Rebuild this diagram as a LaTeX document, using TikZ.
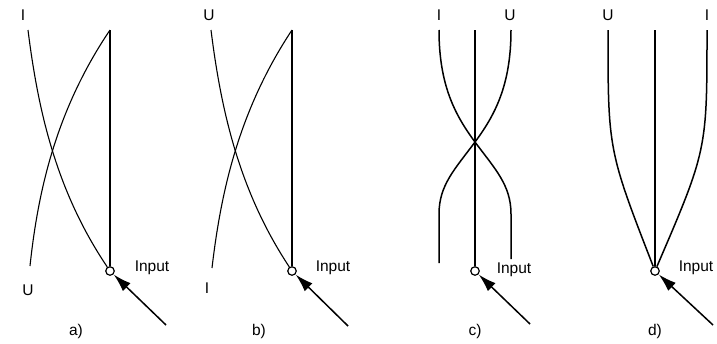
\documentclass[tikz,border=0pt]{standalone}
\usepackage{fontspec}
\setmainfont{Liberation Sans}
\usetikzlibrary{arrows.meta}
\begin{document}
\begin{tikzpicture}[x=1pt,y=-1pt,
  lbl/.style={font=\fontsize{15.5}{18}\selectfont, inner sep=0pt},
  curveline/.style={line width=1.1pt},
  boldline/.style={line width=2.4pt},
  midline/.style={line width=1.5pt},
  port/.style={circle, draw, line width=1.2pt, minimum size=8.5pt, inner sep=0pt, fill=white},
  feed/.style={line width=1.5pt, -{Latex[length=18pt,width=11pt]}, shorten >=0.3pt}
]
\useasboundingbox (0,0) rectangle (717,343);

% ---------- panel a ----------
\node[lbl] (a-Il) at (23,15) {I};
\node[lbl] (a-Ul) at (28,290) {U};
\node[port] (a-in) at (110,271) {};
\node[lbl] (a-inl) at (152,268) {Input};
\node[lbl] (a-cap) at (76,331) {a)};
\coordinate (a-it) at (28,30);
\coordinate (a-ub) at (30,266);
\coordinate (a-top) at (110,30);
\coordinate (a-tail) at (166,325);
\draw[boldline] (a-top) -- (a-in);
\draw[curveline] (a-it) .. controls (38,110) and (56,191) .. (a-in);
\draw[curveline] (a-ub) .. controls (38,191) and (56,110) .. (a-top);
\draw[feed] (a-tail) -- (a-in);

% ---------- panel b ----------
\node[lbl] (b-Ul) at (209,15) {U};
\node[lbl] (b-Il) at (207,288) {I};
\node[port] (b-in) at (292,271) {};
\node[lbl] (b-inl) at (333,268) {Input};
\node[lbl] (b-cap) at (259,331) {b)};
\coordinate (b-ut) at (211,30);
\coordinate (b-ib) at (212,268);
\coordinate (b-top) at (292,30);
\coordinate (b-tail) at (348,326);
\draw[midline] (b-top) -- (b-in);
\draw[curveline] (b-ut) .. controls (221,110) and (239,191) .. (b-in);
\draw[curveline] (b-ib) .. controls (221,191) and (239,110) .. (b-top);
\draw[feed] (b-tail) -- (b-in);

% ---------- panel c ----------
\node[lbl] (c-Il) at (439,15) {I};
\node[lbl] (c-Ul) at (510,15) {U};
\node[port] (c-in) at (475,271) {};
\node[lbl] (c-inl) at (514,270) {Input};
\node[lbl] (c-cap) at (475,331) {c)};
\coordinate (c-lt) at (439,30);
\coordinate (c-rt) at (511,30);
\coordinate (c-x) at (475,142);
\coordinate (c-lb) at (439,263);
\coordinate (c-rb) at (511,259);
\coordinate (c-top) at (475,30);
\coordinate (c-tail) at (530,324);
\draw[midline] (c-top) -- (c-in);
\draw[midline] (c-lt) .. controls (439,85) and (455,115) .. (c-x)
  .. controls (495,169) and (511,185) .. (511,214) -- (c-rb);
\draw[midline] (c-rt) .. controls (511,85) and (495,115) .. (c-x)
  .. controls (455,169) and (439,185) .. (439,214) -- (c-lb);
\draw[feed] (c-tail) -- (c-in);

% ---------- panel d ----------
\node[lbl] (d-Ul) at (608,15) {U};
\node[lbl] (d-Il) at (707,15) {I};
\node[port] (d-in) at (655,271) {};
\node[lbl] (d-inl) at (696,268) {Input};
\node[lbl] (d-cap) at (655,331) {d)};
\coordinate (d-lt) at (608,30);
\coordinate (d-rt) at (707,30);
\coordinate (d-top) at (655,30);
\coordinate (d-tail) at (713,325);
\draw[midline] (d-top) -- (d-in);
\draw[midline] (d-lt) .. controls (608,150) .. (d-in);
\draw[midline] (d-rt) .. controls (707,150) .. (d-in);
\draw[feed] (d-tail) -- (d-in);
\end{tikzpicture}
\end{document}
